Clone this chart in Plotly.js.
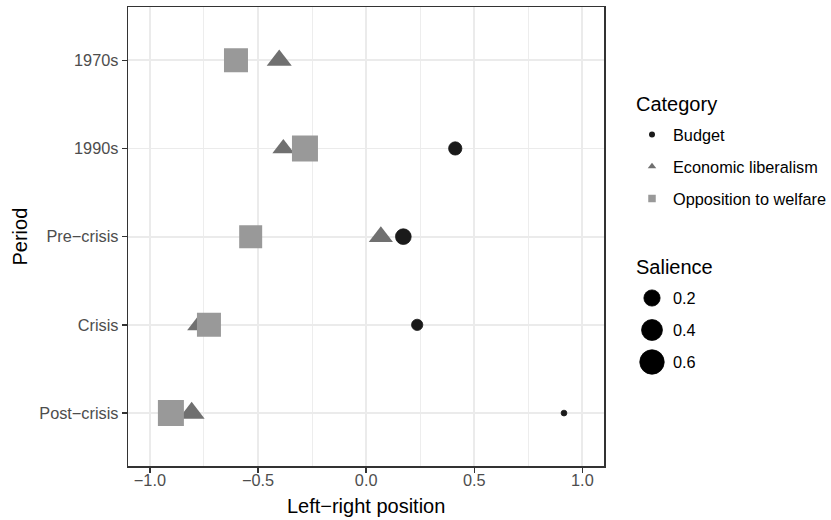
<!DOCTYPE html>
<html>
<head>
<meta charset="utf-8">
<script src="https://cdn.plot.ly/plotly-3.0.1.min.js"></script>
<style>html,body{margin:0;padding:0;background:#fff;}#chart{width:831px;height:520px;}</style>
</head>
<body>
<div id="chart"></div>
<script>
// ---- data ----
var periods = ['1970s', '1990s', 'Pre\u2212crisis', 'Crisis', 'Post\u2212crisis'];

var budgetPeriods = ['1990s', 'Pre\u2212crisis', 'Crisis', 'Post\u2212crisis'];
var budgetPos = [0.412, 0.172, 0.236, 0.915];
var budgetSal = [0.109, 0.182, 0.063, 0.001];

var econPeriods = ['1970s', '1990s', 'Pre\u2212crisis', 'Crisis', 'Post\u2212crisis'];
var econPos = [-0.402, -0.383, 0.068, -0.769, -0.807];
var econSal = [0.294, 0.203, 0.268, 0.307, 0.325];

var welfPeriods = ['1970s', '1990s', 'Pre\u2212crisis', 'Crisis', 'Post\u2212crisis'];
var welfPos = [-0.602, -0.283, -0.534, -0.727, -0.903];
var welfSal = [0.573, 0.70, 0.514, 0.573, 0.70];

var categoryLabels = ['Budget', 'Economic liberalism', 'Opposition to welfare'];
var salienceBreaks = [0.2, 0.4, 0.6];
var xTicks = [-1.0, -0.5, 0.0, 0.5, 1.0];

// ---- styling ----
var W = 831, H = 520;
var colors = ['#1A1A1A', '#707070', '#999999'];
var FONT = 'Liberation Sans, Arial, Helvetica, sans-serif';
var SAL_MAX = 0.7, D_MIN = 5, D_SPAN = 21;
function diam(v) { return D_MIN + D_SPAN * Math.sqrt(Math.max(v, 0) / SAL_MAX); }
var TRI = 1.166; // plotly triangle-up size factor to match R pch 17

var panel = {l: 128.3, r: 604, t: 7.3, b: 466};

var traces = [
  {
    type: 'scatter', mode: 'markers', x: budgetPos, y: budgetPeriods,
    xaxis: 'x', yaxis: 'y', showlegend: false, hoverinfo: 'x+y',
    marker: {symbol: 'circle', color: colors[0], opacity: 1, size: budgetSal.map(diam),
             line: {color: colors[0], width: 0.8}}
  },
  {
    type: 'scatter', mode: 'markers', x: econPos, y: econPeriods,
    xaxis: 'x', yaxis: 'y', showlegend: false, hoverinfo: 'x+y',
    marker: {symbol: 'triangle-up', color: colors[1], opacity: 1,
             size: econSal.map(function (v) { return diam(v) * TRI; }), line: {width: 0}}
  },
  {
    type: 'scatter', mode: 'markers', x: welfPos, y: welfPeriods,
    xaxis: 'x', yaxis: 'y', showlegend: false, hoverinfo: 'x+y',
    marker: {symbol: 'square', color: colors[2], opacity: 1, size: welfSal.map(diam),
             line: {width: 0}}
  }
];

// ---- manual legends (pixel coordinates on an overlay axis pair) ----
var legKeyX = 652, legTextX = 670.5, legTitleX = 633.5;
var catTitleY = 104, catY = [134.5, 166.5, 198.5];
var salTitleY = 267, salY = [298, 330, 362];

traces.push({
  type: 'scatter', mode: 'markers', xaxis: 'x2', yaxis: 'y2', showlegend: false, hoverinfo: 'skip',
  x: [legKeyX, legKeyX, legKeyX], y: catY,
  marker: {symbol: ['circle', 'triangle-up', 'square'], color: colors, opacity: 1, size: [6, 7.4, 7.5], line: {width: 0}}
});
traces.push({
  type: 'scatter', mode: 'markers', xaxis: 'x2', yaxis: 'y2', showlegend: false, hoverinfo: 'skip',
  x: salienceBreaks.map(function () { return legKeyX; }), y: salY,
  marker: {symbol: 'circle', color: '#000000', opacity: 1, size: salienceBreaks.map(diam),
           line: {color: '#000000', width: 0.8}}
});

var annotations = [];
function addText(txt, x, y, size) {
  annotations.push({xref: 'x2', yref: 'y2', x: x, y: y, text: txt, showarrow: false,
    xanchor: 'left', yanchor: 'middle', font: {family: FONT, size: size, color: '#000000'}});
}
addText('Category', legTitleX, catTitleY, 20);
categoryLabels.forEach(function (t, i) { addText(t, legTextX, catY[i], 16.3); });
addText('Salience', legTitleX, salTitleY, 20);
salienceBreaks.forEach(function (b, i) { addText(b.toFixed(1), legTextX, salY[i], 16.3); });

var layout = {
  width: W, height: H,
  margin: {l: 0, r: 0, t: 0, b: 0, pad: 0},
  paper_bgcolor: '#ffffff', plot_bgcolor: 'rgba(0,0,0,0)',
  showlegend: false,
  font: {family: FONT},
  xaxis: {
    domain: [panel.l / W, panel.r / W], anchor: 'y',
    range: [-1.1, 1.1], tickvals: xTicks, tickformat: '.1f',
    showgrid: true, gridcolor: '#EBEBEB', gridwidth: 1.8,
    minor: {tickvals: [-0.75, -0.25, 0.25, 0.75], showgrid: true, gridcolor: '#EBEBEB', gridwidth: 0.9, ticks: ''},
    zeroline: false, showline: true, mirror: true, linecolor: '#333333', linewidth: 1.6,
    ticks: 'outside', ticklen: 5, tickwidth: 1.4, tickcolor: '#333333',
    ticklabelstandoff: -6,
    tickfont: {family: FONT, size: 16.3, color: '#4D4D4D'},
    title: {text: 'Left\u2212right position', font: {family: FONT, size: 20, color: '#000000'}, standoff: 11},
    automargin: false, fixedrange: true
  },
  yaxis: {
    domain: [1 - panel.b / H, 1 - panel.t / H], anchor: 'x',
    type: 'category', categoryorder: 'array', categoryarray: periods,
    range: [4.6, -0.6],
    showgrid: true, gridcolor: '#EBEBEB', gridwidth: 1.8,
    zeroline: false, showline: true, mirror: true, linecolor: '#333333', linewidth: 1.6,
    ticks: 'outside', ticklen: 5, tickwidth: 1.4, tickcolor: '#333333',
    tickfont: {family: FONT, size: 16.3, color: '#4D4D4D'},
    title: {text: 'Period', font: {family: FONT, size: 20, color: '#000000'}, standoff: 6},
    automargin: false, fixedrange: true
  },
  xaxis2: {domain: [0, 1], anchor: 'y2', range: [0, W], visible: false, fixedrange: true},
  yaxis2: {domain: [0, 1], anchor: 'x2', range: [H, 0], visible: false, fixedrange: true},
  annotations: annotations
};

Plotly.newPlot('chart', traces, layout, {displayModeBar: false, staticPlot: true});
</script>
</body>
</html>
